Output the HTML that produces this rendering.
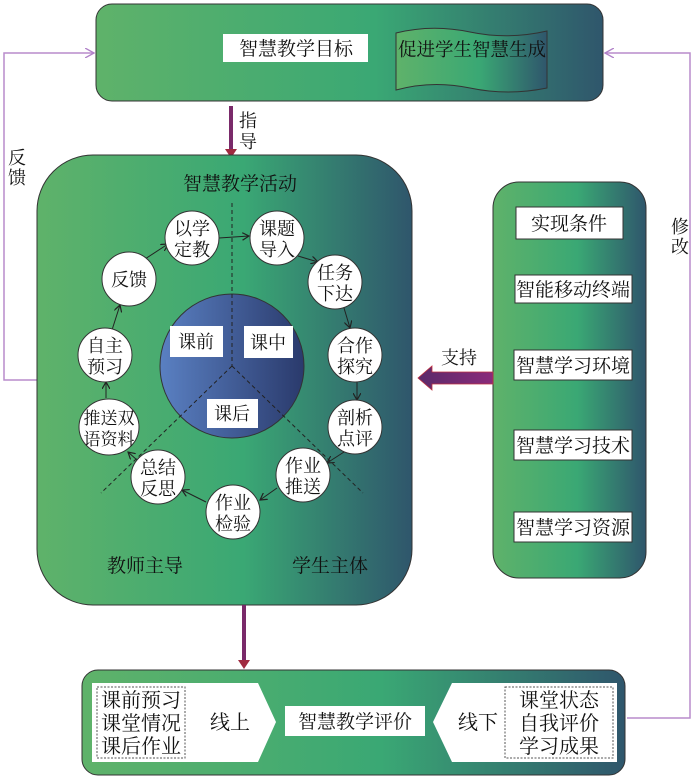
<!DOCTYPE html>
<html><head><meta charset="utf-8"><style>
html,body{margin:0;padding:0;background:#fff;width:700px;height:781px;overflow:hidden}
text{font-family:"Liberation Serif","Noto Serif CJK SC","Noto Sans CJK SC",serif;fill:#111}
</style></head><body>
<svg width="700" height="781" viewBox="0 0 700 781" xmlns="http://www.w3.org/2000/svg">
<defs>
<linearGradient id="g" x1="0" y1="0" x2="1" y2="0">
<stop offset="0" stop-color="#5fb26a"/><stop offset="0.55" stop-color="#3aa874"/><stop offset="1" stop-color="#2f566c"/>
</linearGradient>
<linearGradient id="b" x1="0" y1="0" x2="1" y2="0">
<stop offset="0" stop-color="#5a80c2"/><stop offset="1" stop-color="#2a3a6c"/>
</linearGradient>
<linearGradient id="p" x1="0" y1="0" x2="1" y2="0">
<stop offset="0" stop-color="#5a2a6a"/><stop offset="1" stop-color="#8a2a7a"/>
</linearGradient>
<marker id="a" markerWidth="8" markerHeight="8" refX="7" refY="4" orient="auto" markerUnits="userSpaceOnUse">
<path d="M0,0 L7,4 L0,8" fill="none" stroke="#222" stroke-width="1.2"/></marker>
<marker id="pa" markerWidth="10" markerHeight="10" refX="9" refY="5" orient="auto" markerUnits="userSpaceOnUse">
<path d="M0,0 L9,5 L0,10" fill="none" stroke="#b080c8" stroke-width="1.3"/></marker>
</defs>

<polyline points="37,380 4,380 4,53 94,53" fill="none" stroke="#b98ccc" stroke-width="1.5" marker-end="url(#pa)"/>
<polyline points="627,718 690,718 690,53 605,53" fill="none" stroke="#b98ccc" stroke-width="1.5" marker-end="url(#pa)"/>
<text x="8" y="164" font-size="18">反</text><text x="8" y="184" font-size="18">馈</text>
<text x="671" y="233" font-size="18">修</text><text x="671" y="253" font-size="18">改</text>

<rect x="96" y="4" width="507" height="97" rx="16" fill="url(#g)" stroke="#333" stroke-width="1"/>
<rect x="223" y="34" width="145" height="28" fill="#fff"/>
<text x="296" y="55" font-size="19" text-anchor="middle">智慧教学目标</text>
<path d="M396,33 Q432,24 470,32 Q508,40 547,31 L547,88 Q508,96 470,88 Q432,80 396,90 Z" fill="url(#g)" stroke="#333" stroke-width="1"/>
<text x="472" y="56" font-size="18.5" text-anchor="middle">促进学生智慧生成</text>

<line x1="231" y1="106" x2="231" y2="150" stroke="#7a2a6a" stroke-width="4"/>
<path d="M225,149 L231,158 L237,149 Z" fill="#a02a40"/>
<text x="239" y="127" font-size="18">指</text><text x="239" y="148" font-size="18">导</text>

<rect x="37" y="155" width="375" height="450" rx="56" fill="url(#g)" stroke="#333" stroke-width="1"/>
<text x="240" y="190" font-size="19" text-anchor="middle">智慧教学活动</text>

<circle cx="232" cy="366" r="72" fill="url(#b)" stroke="#333" stroke-width="1"/>
<g stroke="#222" stroke-width="1" stroke-dasharray="4,3" fill="none">
<line x1="232" y1="203" x2="232" y2="366"/>
<line x1="232" y1="366" x2="101" y2="493"/>
<line x1="232" y1="366" x2="363" y2="493"/>
</g>
<rect x="170" y="326" width="53" height="31" fill="#fff"/><text x="196" y="348" font-size="18" text-anchor="middle">课前</text>
<rect x="244" y="326" width="49" height="32" fill="#fff"/><text x="268" y="349" font-size="18" text-anchor="middle">课中</text>
<rect x="207" y="399" width="51" height="29" fill="#fff"/><text x="232" y="420" font-size="18" text-anchor="middle">课后</text>

<g stroke="#222" stroke-width="1" fill="none" marker-end="url(#a)">
<line x1="219" y1="238" x2="249" y2="236"/>
<line x1="298" y1="256" x2="318" y2="262"/>
<line x1="344" y1="308" x2="350" y2="328"/>
<line x1="357" y1="382" x2="357" y2="400"/>
<line x1="344" y1="452" x2="327" y2="463"/>
<line x1="277" y1="488" x2="260" y2="500"/>
<line x1="206" y1="502" x2="182" y2="490"/>
<line x1="137" y1="460" x2="128" y2="452"/>
<line x1="106" y1="398" x2="106" y2="382"/>
<line x1="112" y1="330" x2="120" y2="305"/>
<line x1="145" y1="259" x2="168" y2="244"/>
</g>
<g fill="#fff" stroke="#333" stroke-width="1">
<circle cx="192" cy="238" r="27"/><circle cx="277" cy="238" r="27"/>
<circle cx="335" cy="282" r="27"/><circle cx="355" cy="355" r="27"/>
<circle cx="355" cy="427" r="27"/><circle cx="303" cy="475" r="27"/>
<circle cx="233" cy="512" r="27"/><circle cx="158" cy="477" r="27"/>
<ellipse cx="109" cy="427" rx="30" ry="28"/><circle cx="105" cy="355" r="27"/>
<circle cx="129" cy="279" r="27"/>
</g>
<g font-size="18" text-anchor="middle">
<text x="192" y="235">以学</text><text x="192" y="256">定教</text>
<text x="277" y="235">课题</text><text x="277" y="256">导入</text>
<text x="335" y="279">任务</text><text x="335" y="300">下达</text>
<text x="355" y="352">合作</text><text x="355" y="373">探究</text>
<text x="355" y="424">剖析</text><text x="355" y="445">点评</text>
<text x="303" y="472">作业</text><text x="303" y="493">推送</text>
<text x="233" y="509">作业</text><text x="233" y="530">检验</text>
<text x="158" y="474">总结</text><text x="158" y="495">反思</text>
<text x="109" y="424" font-size="17">推送双</text><text x="109" y="445" font-size="17">语资料</text>
<text x="105" y="352">自主</text><text x="105" y="373">预习</text>
<text x="129" y="286">反馈</text>
</g>
<text x="145" y="572" font-size="19" text-anchor="middle">教师主导</text>
<text x="330" y="572" font-size="19" text-anchor="middle">学生主体</text>

<line x1="244" y1="605" x2="244" y2="662" stroke="#7a2a6a" stroke-width="4"/>
<path d="M238,660 L244,669 L250,660 Z" fill="#a02a40"/>

<rect x="493" y="182" width="153" height="396" rx="26" fill="url(#g)" stroke="#333" stroke-width="1"/>
<g fill="#fff" stroke="#333" stroke-width="1">
<rect x="516" y="207" width="107" height="32"/>
<rect x="515" y="275" width="117" height="28"/>
<rect x="514" y="350" width="118" height="30"/>
<rect x="514" y="430" width="118" height="30"/>
<rect x="514" y="512" width="118" height="30"/>
</g>
<g font-size="19" text-anchor="middle">
<text x="569" y="230">实现条件</text>
<text x="573" y="296">智能移动终端</text>
<text x="573" y="372">智慧学习环境</text>
<text x="573" y="452">智慧学习技术</text>
<text x="573" y="534">智慧学习资源</text>
</g>
<path d="M493,372 L432,372 L432,366 L418,378 L432,390 L432,384 L493,384 Z" fill="url(#p)" stroke="#c03040" stroke-width="0.8"/>
<text x="459" y="364" font-size="18" text-anchor="middle">支持</text>

<rect x="82" y="670" width="543" height="105" rx="16" fill="url(#g)" stroke="#333" stroke-width="1"/>
<path d="M92,683 L258,683 L276,722 L258,762 L92,762 Z" fill="#fff"/>
<rect x="97" y="687" width="88" height="71" fill="none" stroke="#555" stroke-dasharray="2,1.5"/>
<path d="M617,683 L452,683 L433,722 L452,762 L617,762 Z" fill="#fff"/>
<rect x="505" y="687" width="108" height="71" fill="none" stroke="#555" stroke-dasharray="2,1.5"/>
<rect x="285" y="706" width="140" height="30" fill="#fff"/>
<g font-size="20" text-anchor="middle">
<text x="141" y="707">课前预习</text><text x="141" y="730">课堂情况</text><text x="141" y="753">课后作业</text>
<text x="230" y="729">线上</text>
<text x="355" y="728" font-size="19">智慧教学评价</text>
<text x="478" y="729">线下</text>
<text x="559" y="707">课堂状态</text><text x="559" y="730">自我评价</text><text x="559" y="753">学习成果</text>
</g>
</svg>
</body></html>
